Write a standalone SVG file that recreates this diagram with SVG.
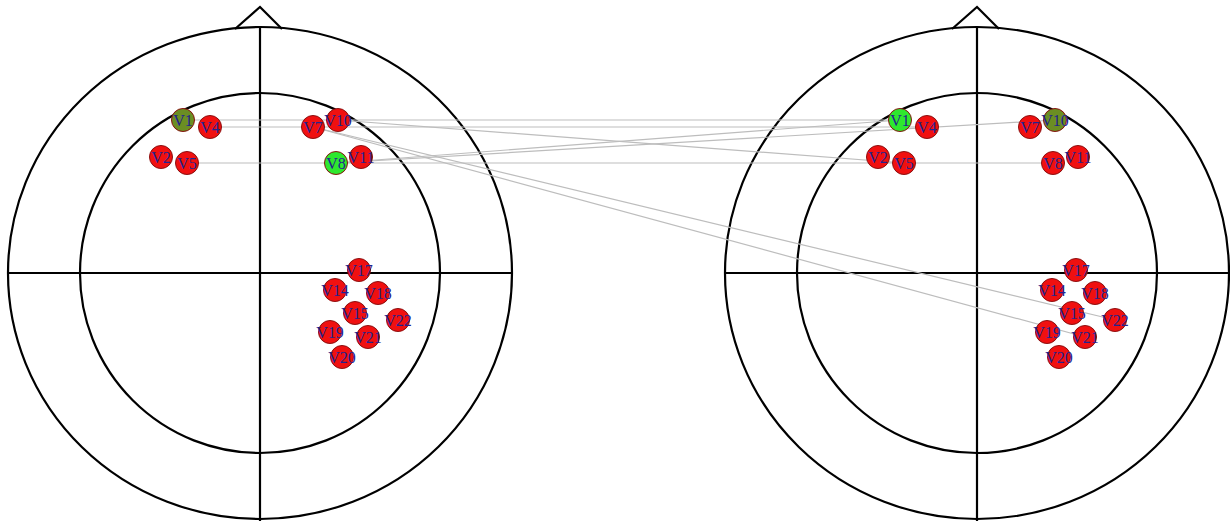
<svg xmlns="http://www.w3.org/2000/svg" width="1230" height="521" viewBox="0 0 1230 521">
<style>
.head{fill:none;stroke:#000;stroke-width:2.2}
.con{stroke:#bdbdbd;stroke-width:1.2;fill:none}
.n circle{stroke:#8a1010;stroke-width:1}
.red{fill:#f01010}
.olive{fill:#6b8e23}
.green{fill:#2ee82e}
.n text{font-family:"Liberation Serif",serif;font-size:16px;fill:#23238f;text-anchor:middle;dominant-baseline:central}
</style>
<rect width="1230" height="521" fill="#fff"/>
<g id="head-left">
<ellipse class="head" cx="260" cy="273" rx="252" ry="246"/>
<circle class="head" cx="260" cy="273" r="180"/>
<line class="head" x1="8" y1="273" x2="512" y2="273"/>
<line class="head" x1="260" y1="28" x2="260" y2="521"/>
<polyline class="head" points="235,29 260,7 282,29"/>
</g>
<g id="head-right">
<ellipse class="head" cx="977" cy="273" rx="252" ry="246"/>
<circle class="head" cx="977" cy="273" r="180"/>
<line class="head" x1="725" y1="273" x2="1229" y2="273"/>
<line class="head" x1="977" y1="28" x2="977" y2="521"/>
<polyline class="head" points="952,29 977,7 999,29"/>
</g>
<g id="connectors">
<line class="con" x1="183" y1="120" x2="900" y2="120"/>
<line class="con" x1="210" y1="127" x2="927" y2="127"/>
<line class="con" x1="187" y1="163" x2="1053" y2="163"/>
<line class="con" x1="338" y1="120" x2="904" y2="163"/>
<line class="con" x1="336" y1="163" x2="900" y2="120"/>
<line class="con" x1="336" y1="163" x2="1055" y2="120"/>
<line class="con" x1="313" y1="127" x2="1115" y2="320"/>
<line class="con" x1="313" y1="127" x2="1085" y2="337"/>
</g>
<g id="L-V1" class="n"><circle class="olive" cx="183" cy="120" r="11.5"/><text x="183" y="120">V1</text></g>
<g id="L-V4" class="n"><circle class="red" cx="210" cy="127" r="11.5"/><text x="210" y="127">V4</text></g>
<g id="L-V2" class="n"><circle class="red" cx="161" cy="157" r="11.5"/><text x="161" y="157">V2</text></g>
<g id="L-V5" class="n"><circle class="red" cx="187" cy="163" r="11.5"/><text x="187" y="163">V5</text></g>
<g id="L-V7" class="n"><circle class="red" cx="313" cy="127" r="11.5"/><text x="313" y="127">V7</text></g>
<g id="L-V10" class="n"><circle class="red" cx="338" cy="120" r="11.5"/><text x="338" y="120">V10</text></g>
<g id="L-V8" class="n"><circle class="green" cx="336" cy="163" r="11.5"/><text x="336" y="163">V8</text></g>
<g id="L-V11" class="n"><circle class="red" cx="361" cy="157" r="11.5"/><text x="361" y="157">V11</text></g>
<g id="L-V17" class="n"><circle class="red" cx="359" cy="270" r="11.5"/><text x="359" y="270">V17</text></g>
<g id="L-V14" class="n"><circle class="red" cx="335" cy="290" r="11.5"/><text x="335" y="290">V14</text></g>
<g id="L-V18" class="n"><circle class="red" cx="378" cy="293" r="11.5"/><text x="378" y="293">V18</text></g>
<g id="L-V15" class="n"><circle class="red" cx="355" cy="313" r="11.5"/><text x="355" y="313">V15</text></g>
<g id="L-V22" class="n"><circle class="red" cx="398" cy="320" r="11.5"/><text x="398" y="320">V22</text></g>
<g id="L-V19" class="n"><circle class="red" cx="330" cy="332" r="11.5"/><text x="330" y="332">V19</text></g>
<g id="L-V21" class="n"><circle class="red" cx="368" cy="337" r="11.5"/><text x="368" y="337">V21</text></g>
<g id="L-V20" class="n"><circle class="red" cx="342" cy="357" r="11.5"/><text x="342" y="357">V20</text></g>
<g id="R-V1" class="n"><circle class="green" cx="900" cy="120" r="11.5"/><text x="900" y="120">V1</text></g>
<g id="R-V4" class="n"><circle class="red" cx="927" cy="127" r="11.5"/><text x="927" y="127">V4</text></g>
<g id="R-V2" class="n"><circle class="red" cx="878" cy="157" r="11.5"/><text x="878" y="157">V2</text></g>
<g id="R-V5" class="n"><circle class="red" cx="904" cy="163" r="11.5"/><text x="904" y="163">V5</text></g>
<g id="R-V7" class="n"><circle class="red" cx="1030" cy="127" r="11.5"/><text x="1030" y="127">V7</text></g>
<g id="R-V10" class="n"><circle class="olive" cx="1055" cy="120" r="11.5"/><text x="1055" y="120">V10</text></g>
<g id="R-V8" class="n"><circle class="red" cx="1053" cy="163" r="11.5"/><text x="1053" y="163">V8</text></g>
<g id="R-V11" class="n"><circle class="red" cx="1078" cy="157" r="11.5"/><text x="1078" y="157">V11</text></g>
<g id="R-V17" class="n"><circle class="red" cx="1076" cy="270" r="11.5"/><text x="1076" y="270">V17</text></g>
<g id="R-V14" class="n"><circle class="red" cx="1052" cy="290" r="11.5"/><text x="1052" y="290">V14</text></g>
<g id="R-V18" class="n"><circle class="red" cx="1095" cy="293" r="11.5"/><text x="1095" y="293">V18</text></g>
<g id="R-V15" class="n"><circle class="red" cx="1072" cy="313" r="11.5"/><text x="1072" y="313">V15</text></g>
<g id="R-V22" class="n"><circle class="red" cx="1115" cy="320" r="11.5"/><text x="1115" y="320">V22</text></g>
<g id="R-V19" class="n"><circle class="red" cx="1047" cy="332" r="11.5"/><text x="1047" y="332">V19</text></g>
<g id="R-V21" class="n"><circle class="red" cx="1085" cy="337" r="11.5"/><text x="1085" y="337">V21</text></g>
<g id="R-V20" class="n"><circle class="red" cx="1059" cy="357" r="11.5"/><text x="1059" y="357">V20</text></g>
</svg>
